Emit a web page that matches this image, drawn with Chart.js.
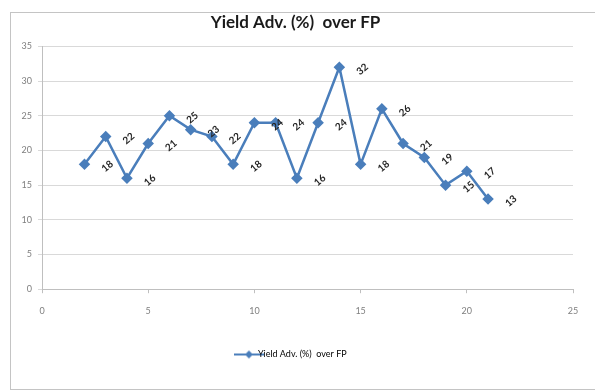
<!DOCTYPE html>
<html>
<head>
<meta charset="utf-8">
<script src="https://cdn.jsdelivr.net/npm/chart.js@4/dist/chart.umd.min.js"></script>
<style>
  html, body { margin: 0; padding: 0; background: #fff; }
  #wrap { position: relative; width: 595px; height: 391px; overflow: hidden; }
  #frame { position: absolute; left: 10px; top: 12px; width: 600px; height: 376px; border: 1.5px solid #c4c4c4; }
  canvas { position: absolute; left: 0; top: 0; }
</style>
</head>
<body>
<div id="wrap">
  <div id="frame"></div>
  <canvas id="yield-chart" width="595" height="391"></canvas>
</div>
<script>
const xValues = [2, 3, 4, 5, 6, 7, 8, 9, 10, 11, 12, 13, 14, 15, 16, 17, 18, 19, 20, 21];
const yieldAdv = [18, 22, 16, 21, 25, 23, 22, 18, 24, 24, 16, 24, 32, 18, 26, 21, 19, 15, 17, 13];
const xTicks = [0, 5, 10, 15, 20, 25];
const yTicks = [0, 5, 10, 15, 20, 25, 30, 35];

const seriesName = "Yield Adv. (%)  over FP";
const blue = "#4a7ebb";

// small legend swatch: line with a diamond in the middle
function legendSwatch() {
    const c = document.createElement("canvas");
    c.width = 30; c.height = 10;
    const g = c.getContext("2d");
    g.strokeStyle = blue; g.lineWidth = 2;
    g.beginPath(); g.moveTo(0, 5); g.lineTo(30, 5); g.stroke();
    g.fillStyle = blue;
    g.beginPath(); g.moveTo(15, 1); g.lineTo(19, 5); g.lineTo(15, 9); g.lineTo(11, 5); g.closePath(); g.fill();
    return c;
}

const pointLabels = {
    id: "pointLabels",
    afterDatasetsDraw(chart) {
        const ctx = chart.ctx;
        const meta = chart.getDatasetMeta(0);
        ctx.save();
        ctx.font = "bold 10px Lato, 'DejaVu Sans', sans-serif";
        ctx.fillStyle = "#262626";
        ctx.textAlign = "center";
        ctx.textBaseline = "middle";
        meta.data.forEach((pt, i) => {
            ctx.save();
            ctx.translate(pt.x + 23, pt.y + 2);
            ctx.rotate(-0.7);
            ctx.fillText(String(yieldAdv[i]), 0, 0);
            ctx.restore();
        });
        ctx.restore();
    }
};

const ctx = document.getElementById("yield-chart").getContext("2d");

new Chart(ctx, {
    type: "scatter",
    data: {
        datasets: [{
            label: seriesName,
            data: xValues.map((x, i) => ({ x, y: yieldAdv[i] })),
            showLine: true,
            borderColor: blue,
            backgroundColor: blue,
            borderWidth: 2.5,
            pointStyle: "rectRot",
            pointRadius: 4,
            pointHoverRadius: 4,
            tension: 0
        }]
    },
    options: {
        responsive: false,
        animation: false,
        layout: { padding: { left: 18, right: 22, top: 0, bottom: 22 } },
        plugins: {
            title: {
                display: true,
                text: "Yield Adv. (%)  over FP",
                color: "#1a1a1a",
                font: { family: "Lato, 'Open Sans', sans-serif", size: 17, weight: "bold" },
                padding: { top: 12, bottom: 14 }
            },
            legend: {
                display: true,
                position: "bottom",
                labels: {
                    color: "#595959",
                    font: { family: "Lato, 'Open Sans', sans-serif", size: 9 },
                    usePointStyle: true,
                    generateLabels: (chart) => [{
                        text: seriesName,
                        pointStyle: legendSwatch(),
                        fillStyle: blue,
                        strokeStyle: blue,
                        lineWidth: 0,
                        datasetIndex: 0
                    }]
                }
            },
            tooltip: { enabled: false }
        },
        scales: {
            x: {
                type: "linear",
                min: 0,
                max: 25,
                afterBuildTicks: (scale) => { scale.ticks = xTicks.map(v => ({ value: v })); },
                afterFit: (scale) => { scale.height += 12; },
                ticks: { color: "#7f7f7f", font: { family: "Lato, sans-serif", size: 9 }, padding: 12 },
                grid: { display: true, drawOnChartArea: false, color: "#bfbfbf", tickLength: 4 },
                border: { color: "#bfbfbf" }
            },
            y: {
                min: 0,
                max: 35,
                afterBuildTicks: (scale) => { scale.ticks = yTicks.map(v => ({ value: v })); },
                afterFit: (scale) => { scale.width = 24; },
                ticks: { color: "#7f7f7f", font: { family: "Lato, sans-serif", size: 9 }, padding: 6 },
                grid: { color: "#d9d9d9", tickLength: 4 },
                border: { color: "#bfbfbf" }
            }
        }
    },
    plugins: [pointLabels]
});
</script>
</body>
</html>
